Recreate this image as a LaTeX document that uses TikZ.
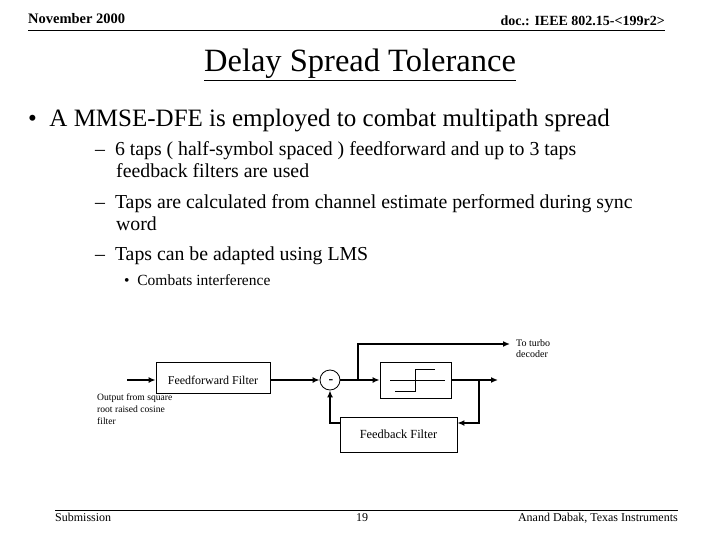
\documentclass[tikz,border=0pt]{standalone}
\usepackage{fontspec}
\setmainfont{Liberation Serif}
\usetikzlibrary{arrows.meta}
\begin{document}
\begin{tikzpicture}[x=1pt,y=-1pt,
  blk/.style={draw,thick,minimum height=0pt,inner sep=0pt},
  sig/.style={line width=1.5pt,-{Latex[length=7pt,width=6pt]}},
  txt/.style={anchor=base west,inner sep=0pt}]
\useasboundingbox (0,0) rectangle (720,540);
\node[txt,font=\bfseries\fontsize{14.5}{16}\selectfont] (h1) at (28,24) {November 2000};
\node[anchor=base east,inner sep=0pt,font=\bfseries\fontsize{14}{16}\selectfont] (h2) at (665,26) {doc.: IEEE 802.15-<199r2>};
\draw[thick] (28,30) -- (665,30);
\node[anchor=base,inner sep=0pt,font=\fontsize{32.5}{36}\selectfont] (title) at (360,72) {\underline{Delay Spread Tolerance}};
\node[txt,font=\fontsize{25}{28}\selectfont] (b1) at (28,127) {\textbullet\ \ A MMSE-DFE is employed to combat multipath spread};
\begin{scope}[font=\fontsize{19.8}{22}\selectfont]
\node[txt] (s1) at (95,156) {–\ \ 6 taps ( half-symbol spaced ) feedforward and up to 3 taps};
\node[txt] (s1b) at (116,178) {feedback filters are used};
\node[txt] (s2) at (95,208) {–\ \ Taps are calculated from channel estimate performed during sync};
\node[txt] (s2b) at (116,230) {word};
\node[txt] (s3) at (95,260) {–\ \ Taps can be adapted using LMS};
\end{scope}
\node[txt,font=\fontsize{15.5}{18}\selectfont] (ss) at (124,285) {\textbullet\ \ Combats interference};
% diagram
\node[blk,minimum width=114pt,minimum height=31pt] (ff) at (213,378) {};
\node[font=\fontsize{12}{14}\selectfont,inner sep=0pt] at (213,380) {Feedforward Filter};
\node[draw,thick,circle,minimum size=20pt,inner sep=0pt] (sum) at (330,380) {};
\node[inner sep=0pt,font=\bfseries\fontsize{14}{14}\selectfont] at (331,382) {-};
\node[blk,minimum width=71pt,minimum height=36pt] (dec) at (415.5,380) {};
\node[blk,minimum width=117pt,minimum height=35pt,font=\fontsize{12.4}{14}\selectfont] (fb) at (398.5,434.5) {Feedback Filter};
\coordinate (in) at (127,380);
\coordinate (tap) at (358,380);
\coordinate (tapu) at (358,344);
\coordinate (turbo) at (510,344);
\coordinate (out) at (498,380);
\coordinate (otap) at (479,380);
\coordinate (otapd) at (479,423);
\coordinate (fbl) at (330,423);
\draw[sig] (in) -- (ff.west |- in);
\draw[sig] (ff.east |- in) -- (sum.west);
\draw[sig] (sum.east) -- (dec.west);
\draw[sig] (tap) -- (tapu) -- (turbo);
\draw[sig] (dec.east) -- (out);
\draw[sig] (otap) -- (otapd) -- (fb.east |- otapd);
\draw[sig] (fb.west |- fbl) -- (fbl) -- (sum.south);
\draw (390,380) -- (445,380);
\draw (395,391) -- (415,391) -- (415,369) -- (435,369);
\node[txt,font=\fontsize{10}{11}\selectfont] (tt) at (516,346) {To turbo};
\node[txt,font=\fontsize{10}{11}\selectfont] (tt2) at (516,357) {decoder};
\node[txt,font=\fontsize{9.6}{11}\selectfont] (o1) at (97,400) {Output from square};
\node[txt,font=\fontsize{9.6}{11}\selectfont] (o2) at (97,412) {root raised cosine};
\node[txt,font=\fontsize{9.6}{11}\selectfont] (o3) at (97,424) {filter};
% footer
\draw[thick] (55,510) -- (678,510);
\node[txt,font=\fontsize{12}{14}\selectfont] (f1) at (55,521) {Submission};
\node[anchor=base,inner sep=0pt,font=\fontsize{12}{14}\selectfont] (f2) at (362,521) {19};
\node[anchor=base east,inner sep=0pt,font=\fontsize{12}{14}\selectfont] (f3) at (678,521) {Anand Dabak, Texas Instruments};
\end{tikzpicture}
\end{document}
